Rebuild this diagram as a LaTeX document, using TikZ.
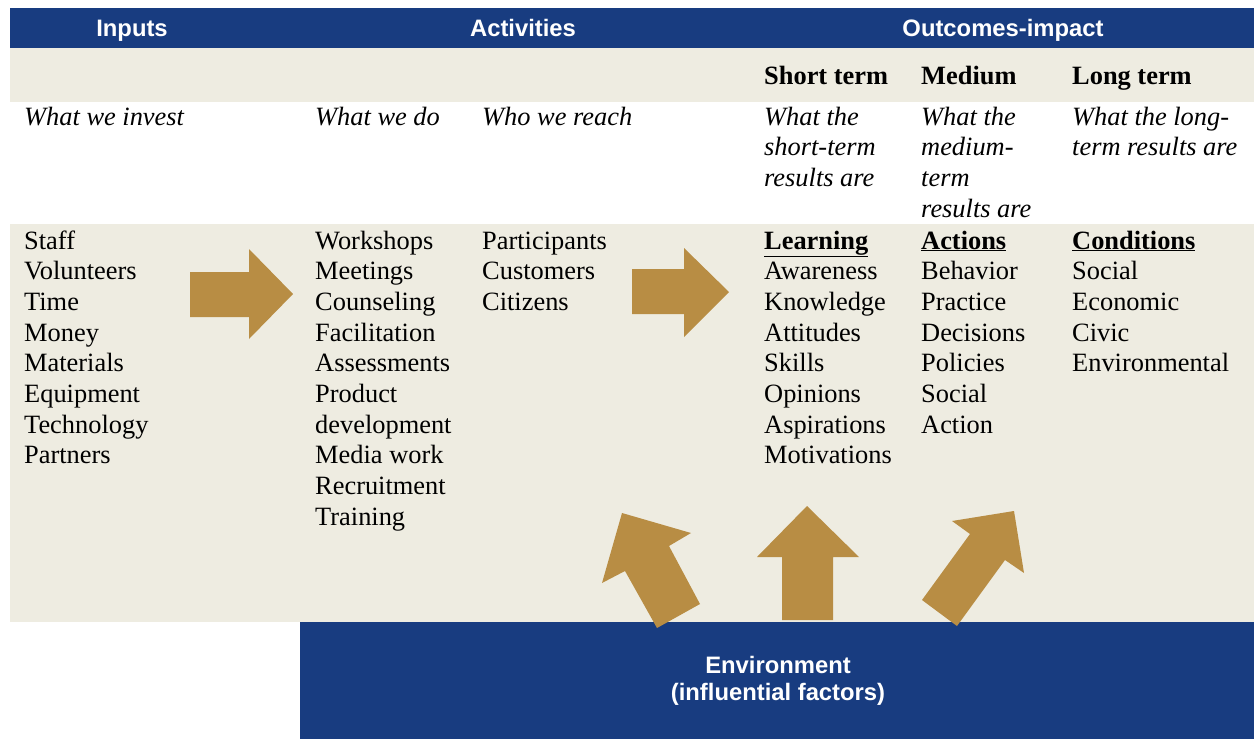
\documentclass[tikz,border=0pt]{standalone}
\usepackage{fontspec}
\setmainfont{Liberation Serif}
\setsansfont{Liberation Sans}
\usetikzlibrary{positioning}
\definecolor{cNavy}{HTML}{183C80}
\definecolor{cSand}{HTML}{EEECE1}
\definecolor{cGold}{HTML}{B88D44}

\begin{document}
\begin{tikzpicture}[x=1pt, y=-1pt,
    band/.style={fill=cNavy},
    panel/.style={fill=cSand},
    goldarrow/.style={fill=cGold},
    head/.style={font=\sffamily\bfseries\fontsize{23.8}{27}\selectfont,
                 text=white, inner sep=0pt, anchor=base},
    item/.style={font=\fontsize{26.4}{30.7}\selectfont, inner sep=0pt, anchor=base west},
    ask/.style={item, font=\itshape\fontsize{26.4}{30.7}\selectfont},
    term/.style={item, font=\bfseries\fontsize{26.4}{30.7}\selectfont},
  ]
  \useasboundingbox (0,0) rectangle (1254,739);
  \fill[white] (0,0) rectangle (1254,739);

  % bands and panels
  \fill[band]  (10,8)    rectangle (1254,48);
  \fill[panel] (10,48)   rectangle (1254,102);
  \fill[panel] (10,224)  rectangle (1254,622);
  \fill[band]  (300,622) rectangle (1254,739);

  % column headers
  \node[head] (hInputs)   at (132,36)  {Inputs};
  \node[head] (hActivity) at (523,36)  {Activities};
  \node[head] (hOutcome)  at (1003,36) {Outcomes-impact};

  \node[term] (tShort)  at (764,84)  {Short term};
  \node[term] (tMedium) at (921,84)  {Medium};
  \node[term] (tLong)   at (1072,84) {Long term};

  % questions (italic row)
  \foreach \name/\x/\words in {
      qIn/24/{What we invest},
      qDo/315/{What we do},
      qReach/482/{Who we reach},
      qShort/764/{What the,short-term,results are},
      qMed/921/{What the,medium-,term,results are},
      qLong/1072/{What the long-,term results are}}{
    \foreach \w [count=\i from 0] in \words {
      \node[ask] (\name\i) at (\x, 125+30.7*\i) {\w};
    }
  }

  % lists
  \foreach \name/\x/\words in {
      lIn/24/{Staff,Volunteers,Time,Money,Materials,Equipment,Technology,Partners},
      lDo/315/{Workshops,Meetings,Counseling,Facilitation,Assessments,Product,development,Media work,Recruitment,Training},
      lReach/482/{Participants,Customers,Citizens},
      lShort/764/{\underline{\textbf{Learning}},Awareness,Knowledge,Attitudes,Skills,Opinions,Aspirations,Motivations},
      lMed/921/{\underline{\textbf{Actions}},Behavior,Practice,Decisions,Policies,Social,Action},
      lLong/1072/{\underline{\textbf{Conditions}},Social,Economic,Civic,Environmental}}{
    \foreach \w [count=\i from 0] in \words {
      \node[item] (\name\i) at (\x, 249+30.7*\i) {\w};
    }
  }

  % environment box text
  \node[head] (envA) at (778,673) {Environment};
  \node[head] (envB) at (778,700) {(influential factors)};

  % big arrows
  \fill[goldarrow] (190,272) -- (249,272) -- (249,249) -- (293,294)
                   -- (249,339) -- (249,317) -- (190,317) -- cycle;
  \fill[goldarrow] (632,269) -- (684,269) -- (684,248) -- (729,292)
                   -- (684,337) -- (684,314) -- (632,314) -- cycle;
  \fill[goldarrow] (622,513) -- (691,533) -- (669,546) -- (700,604)
                   -- (657,628) -- (625,571) -- (602,583) -- cycle;
  \fill[goldarrow] (807,506) -- (859,557) -- (833,557) -- (833,620)
                   -- (782,620) -- (782,557) -- (757,557) -- cycle;
  \fill[goldarrow] (1014,511) -- (1024,573) -- (1005,560) -- (957,626)
                   -- (922,600) -- (970,534) -- (952,521) -- cycle;
\end{tikzpicture}
\end{document}
